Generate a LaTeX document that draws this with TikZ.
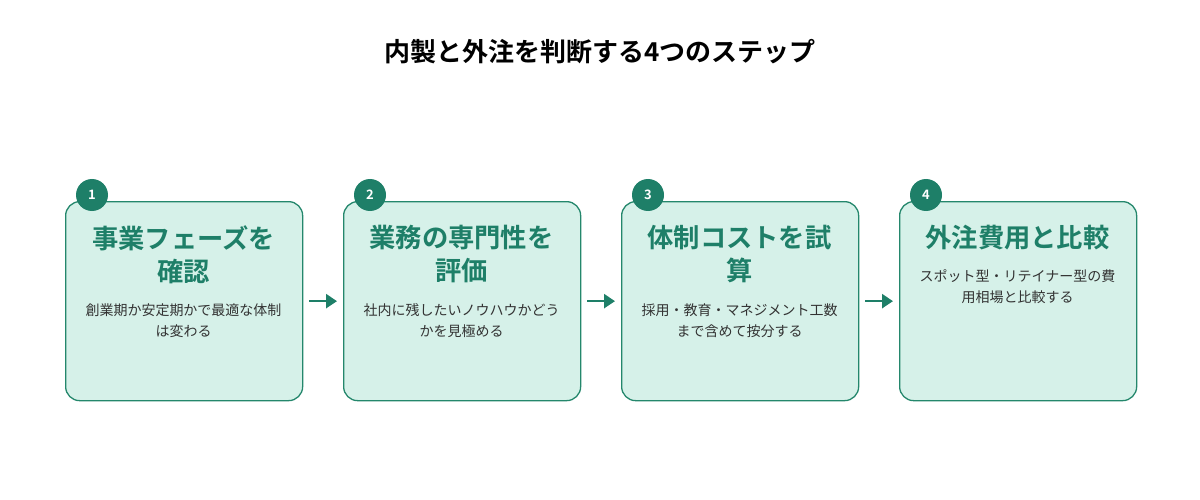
\documentclass[tikz,border=0pt]{standalone}
\usepackage{fontspec}
\setmainfont{Noto Sans CJK JP}
\newfontfamily\jpb{Noto Sans CJK JP Bold}
\usetikzlibrary{arrows.meta}
\definecolor{boxfill}{HTML}{D6F1E9}
\definecolor{boxline}{HTML}{24876C}
\definecolor{dk}{HTML}{1E7F68}
\definecolor{txt}{HTML}{333333}
\tikzset{
 box/.style={draw=boxline,line width=1.3pt,fill=boxfill,rounded corners=14pt,minimum width=237pt,minimum height=199pt,anchor=north west},
 num/.style={circle,fill=dk,text=white,minimum size=32pt,inner sep=0pt,font=\jpb\fontsize{13}{13}\selectfont},
 head/.style={text=dk,align=center,font=\jpb\fontsize{26.3}{33}\selectfont,text width=230pt},
 desc/.style={text=txt,align=center,font=\fontsize{14}{21}\selectfont,text width=230pt},
 arr/.style={draw=dk,line width=2.5pt,-{Triangle[length=11pt,width=14pt]}}
}
\begin{document}
\begin{tikzpicture}[x=1pt,y=-1pt]
\useasboundingbox (0,0) rectangle (1200,500);
\node[font=\jpb\fontsize{26}{26}\selectfont,text=black] (title) at (600,52) {内製と外注を判断する4つのステップ};
\foreach \i/\x in {1/65,2/343,3/621,4/899}{
 \node[box] (b\i) at (\x,201) {};
 \node[num] (n\i) at (\x+27,195) {\i};
}
\node[head,anchor=north] (h1) at (183.5,222) {事業フェーズを\\確認};
\node[desc,anchor=north] (d1) at (183.5,300) {創業期か安定期かで最適な体制\\は変わる};
\node[head,anchor=north] (h2) at (461.5,222) {業務の専門性を\\評価};
\node[desc,anchor=north] (d2) at (461.5,300) {社内に残したいノウハウかどう\\かを見極める};
\node[head,anchor=north] (h3) at (739.5,222) {体制コストを試\\算};
\node[desc,anchor=north] (d3) at (739.5,300) {採用・教育・マネジメント工数\\まで含めて按分する};
\node[head,anchor=north] (h4) at (1017.5,222) {外注費用と比較};
\node[desc,anchor=north] (d4) at (1017.5,266) {スポット型・リテイナー型の費\\用相場と比較する};
\draw[arr] ([xshift=6pt]b1.east) -- ([xshift=-6pt]b2.west);
\draw[arr] ([xshift=6pt]b2.east) -- ([xshift=-6pt]b3.west);
\draw[arr] ([xshift=6pt]b3.east) -- ([xshift=-6pt]b4.west);
\end{tikzpicture}
\end{document}
